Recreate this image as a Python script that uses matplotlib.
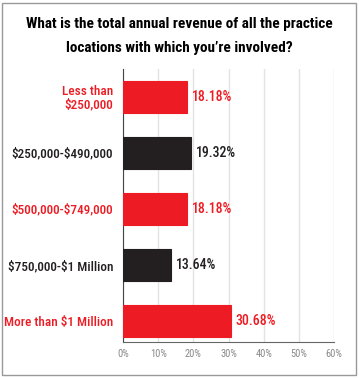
import matplotlib.pyplot as plt
from matplotlib.patches import Rectangle
from matplotlib import font_manager

categories = ["Less than\n\\$250,000", "\\$250,000-\\$490,000", "\\$500,000-\\$749,000",
              "\\$750,000-\\$1 Million", "More than \\$1 Million"]
values = [18.18, 19.32, 18.18, 13.64, 30.68]
ticks = [0, 10, 20, 30, 40, 50, 60]
tick_labels = ["0%", "10%", "20%", "30%", "40%", "50%", "60%"]

RED = "#ed1c24"
BLACK = "#231f20"
colors = [RED, BLACK, RED, BLACK, RED]

names = {f.name for f in font_manager.fontManager.ttflist}
fam = "DejaVu Sans"
for cand in ["Liberation Sans Narrow", "Roboto Condensed", "DejaVu Sans Condensed"]:
    if cand in names:
        fam = cand
        break
plt.rcParams["font.family"] = fam

fig = plt.figure(figsize=(3.59, 3.78), dpi=100)
ax = fig.add_axes([123 / 359, 1 - 342 / 378, (334 - 123) / 359, (342 - 69) / 378])

pos = list(range(len(values)))
ax.barh(pos, values, height=0.57, color=colors, edgecolor=colors, linewidth=0.8, zorder=3)
ax.set_ylim(4.375, -0.495)
ax.set_xlim(0, 60)

for p, v, c in zip(pos, values, colors):
    ax.text(v + 1.3, p, f"{v:.2f}%", color=c, va="center", ha="left",
            fontsize=10, fontweight="medium")

ax.set_yticks(pos)
ax.set_yticklabels(categories, fontsize=9.5, ha="right", linespacing=1.05, fontweight="medium")
for lab, c in zip(ax.get_yticklabels(), colors):
    lab.set_color(c)
ax.set_xticks(ticks)
ax.set_xticklabels(tick_labels, fontsize=7.5, color="#888888")
ax.tick_params(axis="y", length=0, pad=7)
ax.tick_params(axis="x", length=0, pad=5)
ax.xaxis.grid(True, color="#e3e3e3", linewidth=1, zorder=0)
ax.set_axisbelow(True)
for s in ["top", "right"]:
    ax.spines[s].set_visible(False)
ax.spines["left"].set_color("#444444")
ax.spines["bottom"].set_color("#666666")

fig.text(0.5, 1 - 24 / 378, "What is the total annual revenue of all the practice",
         ha="center", va="center", fontsize=11, fontweight="bold")
fig.text(0.5, 1 - 48 / 378, "locations with which you\u2019re involved?",
         ha="center", va="center", fontsize=11, fontweight="bold")

fig.patches.append(Rectangle((2 / 359, 3 / 378), 354 / 359, 372 / 378, transform=fig.transFigure,
                             fill=False, edgecolor="#999999", linewidth=1))

fig.savefig("out.png", dpi=100)
